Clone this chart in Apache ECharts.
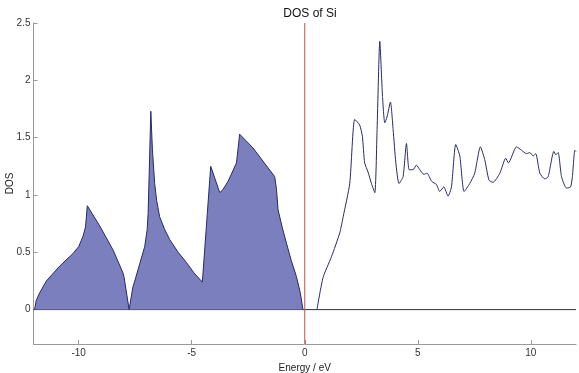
<!DOCTYPE html>
<html>
<head>
<meta charset="utf-8">
<script src="https://cdn.jsdelivr.net/npm/echarts@6/dist/echarts.min.js"></script>
<style>html,body{margin:0;padding:0;background:#fff}#c{width:579px;height:373px}</style>
</head>
<body>
<div id="c"></div>
<script>
// Valence band (filled)
var energyVB = [-11.95,-11.88,-11.73,-11.43,-10.84,-10.25,-10.0,-9.81,-9.70,-9.62,-9.07,-8.48,-8.04,-7.99,-7.77,-7.60,-7.52,-7.30,-7.08,-6.97,-6.93,-6.88,-6.81,-6.74,-6.64,-6.55,-6.42,-6.20,-5.97,-5.60,-5.23,-4.90,-4.53,-4.16,-3.76,-3.61,-3.39,-3.02,-2.88,-2.29,-1.33,-1.25,-1.18,-1.00,-0.81,-0.60,-0.37,-0.20,-0.08];
var dosVB    = [0,0.08,0.145,0.25,0.38,0.49,0.55,0.64,0.72,0.906,0.73,0.52,0.32,0.28,0,0.20,0.25,0.40,0.55,0.70,0.84,1.20,1.73,1.40,1.10,0.95,0.81,0.70,0.61,0.50,0.41,0.32,0.24,1.25,1.02,1.05,1.12,1.28,1.53,1.41,1.16,1.05,0.87,0.72,0.58,0.43,0.29,0.15,0];
// Conduction band (line only)
var energyCB = [0.54,0.81,1.18,1.55,1.70,1.99,2.21,2.43,2.55,2.65,2.80,2.95,3.10,3.20,3.32,3.44,3.54,3.64,3.79,3.91,4.03,4.17,4.35,4.50,4.62,4.79,4.94,5.09,5.27,5.41,5.61,5.83,5.97,6.15,6.34,6.49,6.68,6.86,7.05,7.30,7.52,7.77,7.96,8.15,8.33,8.63,8.89,9.01,9.37,9.59,9.81,9.96,10.10,10.22,10.40,10.62,10.77,11.02,11.11,11.21,11.36,11.58,11.76,11.84,11.95,12.0];
var dosCB    = [0,0.28,0.46,0.67,0.81,1.10,1.66,1.61,1.51,1.28,1.20,1.10,1.02,1.57,2.34,1.86,1.63,1.68,1.81,1.57,1.28,1.10,1.16,1.45,1.22,1.22,1.26,1.22,1.18,1.19,1.12,1.09,1.03,1.07,0.99,1.07,1.44,1.34,1.03,1.10,1.19,1.42,1.31,1.13,1.11,1.19,1.32,1.28,1.42,1.39,1.36,1.37,1.34,1.36,1.19,1.14,1.16,1.38,1.35,1.37,1.16,1.06,1.07,1.16,1.39,1.38];
var xTicks = [-10,-5,0,5,10];
var yTicks = [0,0.5,1,1.5,2,2.5];
var xRange = [-12, 12];
var yRange = [-0.3, 2.5];
var fermiLevel = 0;
var baseline = 0;

function pairs(xs, ys){ return xs.map(function(x,i){ return [x, ys[i]]; }); }

var chart = echarts.init(document.getElementById('c'));
var font = 'Liberation Sans, Arial, sans-serif';
chart.setOption({
  animation: false,
  title: { text: 'DOS of Si', left: 305, textAlign: 'center', top: 3,
    textStyle: { fontFamily: font, fontSize: 12, fontWeight: 'normal', color: '#111' } },
  grid: { left: 33.5, right: 3, top: 23, bottom: 29, containLabel: false, outerBoundsMode: 'none' },
  xAxis: {
    type: 'value', min: xRange[0], max: xRange[1],
    name: 'Energy / eV', nameLocation: 'middle', nameGap: 17,
    nameTextStyle: { fontFamily: font, fontSize: 10, color: '#222' },
    axisLine: { onZero: false, lineStyle: { color: '#999' } },
    axisTick: { inside: true, length: 4, lineStyle: { color: '#999' }, customValues: xTicks },
    axisLabel: { fontFamily: font, fontSize: 10, color: '#333', margin: 4, customValues: xTicks },
    splitLine: { show: false }
  },
  yAxis: {
    type: 'value', min: yRange[0], max: yRange[1],
    name: 'DOS', nameLocation: 'middle', nameGap: 18, nameRotate: 90, nameMoveOverlap: false,
    nameTextStyle: { fontFamily: font, fontSize: 10, color: '#222' },
    axisLine: { show: true, onZero: false, lineStyle: { color: '#999' } },
    axisTick: { show: true, inside: true, length: 4, lineStyle: { color: '#999' }, customValues: yTicks },
    axisLabel: { fontFamily: font, fontSize: 10, color: '#333', margin: 3, customValues: yTicks },
    splitLine: { show: false }
  },
  series: [
    {
      name: 'baseline', type: 'line', symbol: 'none', silent: true, z: 1,
      data: [[xRange[0], baseline], [xRange[1], baseline]],
      lineStyle: { color: '#333', width: 1 }
    },
    {
      name: 'VB', type: 'line', data: pairs(energyVB, dosVB), symbol: 'none',
      lineStyle: { color: '#262a66', width: 1 },
      areaStyle: { color: '#7b7fbe', opacity: 1, origin: 0 },
      z: 2
    },
    {
      name: 'CB', type: 'line', data: pairs(energyCB, dosCB), symbol: 'none', smooth: 0.2,
      lineStyle: { color: '#262a66', width: 1 },
      z: 3
    },
    {
      name: 'Fermi', type: 'line', symbol: 'none', silent: true, z: 6,
      data: [[fermiLevel, yRange[0]], [fermiLevel, yRange[1]]],
      lineStyle: { color: '#c0504d', width: 1 }
    }
  ]
});
</script>
</body>
</html>
